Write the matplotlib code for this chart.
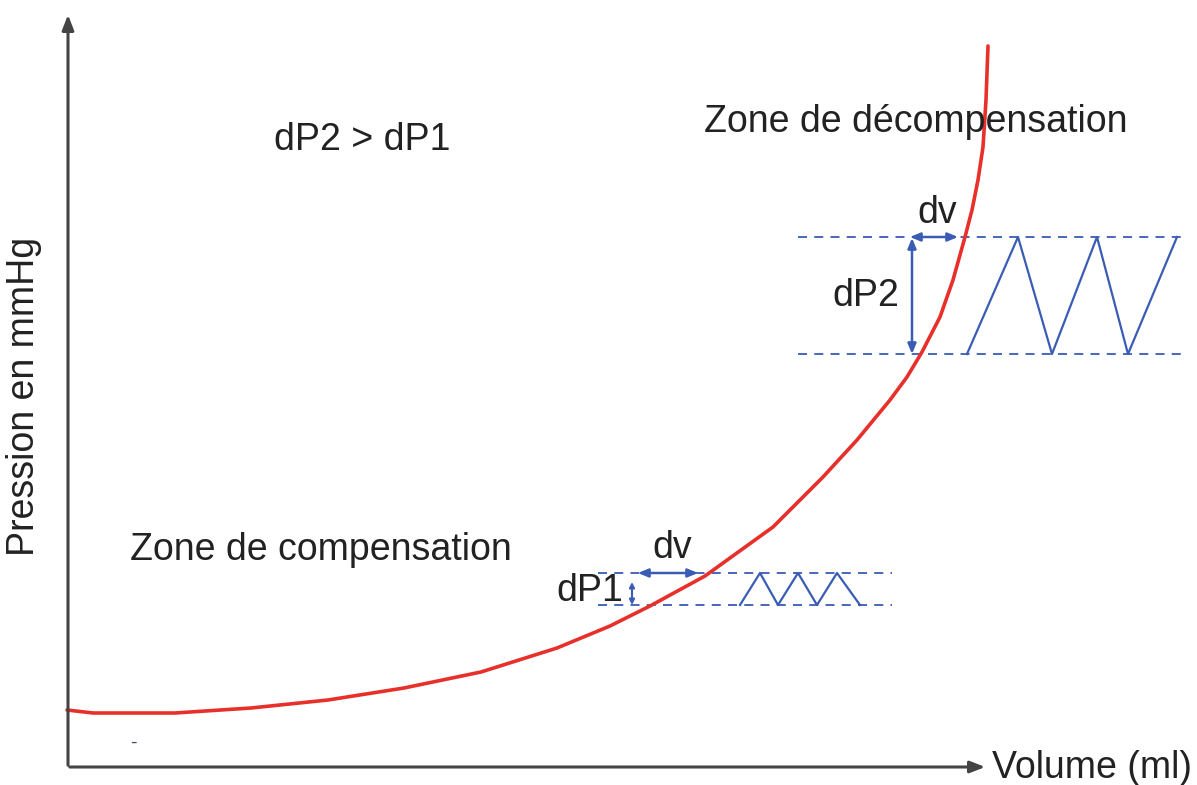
import numpy as np
import matplotlib
matplotlib.use("Agg")
import matplotlib.pyplot as plt

plt.rcParams["font.family"] = ["Liberation Sans", "DejaVu Sans"]

# Pressure-volume curve (image pixel units, y grows downward)
curve_x = [67, 93, 175, 251, 328, 404, 481, 557, 610, 650, 705, 773, 823, 857,
           890, 907, 922, 940, 953, 965, 972, 978, 983, 986, 988]
curve_y = [710, 713, 713, 708, 700, 688, 672, 648, 626, 606, 576, 527, 477, 440,
           400, 377, 352, 317, 280, 237, 210, 180, 147, 100, 46]

# Low (compensation) band
low_band = (573, 605)
low_band_x = (598, 892)
low_zig_x = [740, 760, 778, 798, 817, 837, 860]
low_zig_y = [605, 573, 605, 573, 605, 573, 605]

# High (decompensation) band
high_band = (237, 354)
high_band_x = (798, 1183)
high_zig_x = [967, 1018, 1052, 1097, 1128, 1177]
high_zig_y = [354, 237, 354, 237, 354, 237]

blue = "#3a5cb5"
red = "#e8302b"
ink = "#222222"

fig = plt.figure(figsize=(11.97, 7.85), dpi=100)
ax = fig.add_axes([0, 0, 1, 1])
ax.set_xlim(0, 1197)
ax.set_ylim(785, 0)
ax.axis("off")

# axes with arrows
ax.annotate("", xy=(68, 12), xytext=(68, 768),
            arrowprops=dict(arrowstyle="-|>,head_width=0.35,head_length=0.9",
                            color="#444444", lw=2.2))
ax.annotate("", xy=(988, 767), xytext=(67, 767),
            arrowprops=dict(arrowstyle="-|>,head_width=0.35,head_length=0.9",
                            color="#444444", lw=2.2))

# dashed bands
for y in low_band:
    ax.plot(low_band_x, [y, y], ls=(0, (5, 4)), color=blue, lw=1.3)
for y in high_band:
    ax.plot(high_band_x, [y, y], ls=(0, (5, 4)), color=blue, lw=1.3)

ax.plot(low_zig_x, low_zig_y, color=blue, lw=1.6)
ax.plot(high_zig_x, high_zig_y, color=blue, lw=1.6)

# double arrows
arr = dict(arrowstyle="<|-|>,head_width=0.25,head_length=0.6", color=blue, lw=1.8,
           shrinkA=0, shrinkB=0)
ax.annotate("", xy=(698, 573), xytext=(638, 573), arrowprops=arr)
ax.annotate("", xy=(632, 582), xytext=(632, 605),
            arrowprops=dict(arrowstyle="<|-|>,head_width=0.15,head_length=0.3",
                            color=blue, lw=1.5, shrinkA=0, shrinkB=0))
ax.annotate("", xy=(958, 237), xytext=(910, 237), arrowprops=arr)
ax.annotate("", xy=(912, 238), xytext=(912, 354), arrowprops=arr)

# curve
ax.plot(curve_x, curve_y, color=red, lw=2.6, solid_capstyle="round",
        solid_joinstyle="round")

fs = 27
ax.text(362, 140, "dP2 > dP1", fontsize=fs, ha="center", va="center", color=ink)
ax.text(916, 122, "Zone de décompensation", fontsize=fs, ha="center", va="center", color=ink)
ax.text(321, 550, "Zone de compensation", fontsize=fs, ha="center", va="center", color=ink)
ax.text(672, 548, "dv", fontsize=fs, ha="center", va="center", color=ink)
ax.text(937, 213, "dv", fontsize=fs, ha="center", va="center", color=ink)
ax.text(590, 591, "dP1", fontsize=fs, ha="center", va="center", color=ink)
ax.text(866, 296, "dP2", fontsize=fs, ha="center", va="center", color=ink)
ax.text(1092, 768, "Volume (ml)", fontsize=fs, ha="center", va="center", color=ink)
ax.text(24, 396, "Pression en mmHg", fontsize=fs, ha="center", va="center",
        rotation=90, color=ink)
ax.text(133, 743, "-", fontsize=14, ha="center", va="center", color="#3a4a70")

fig.savefig("out.png", dpi=100)
